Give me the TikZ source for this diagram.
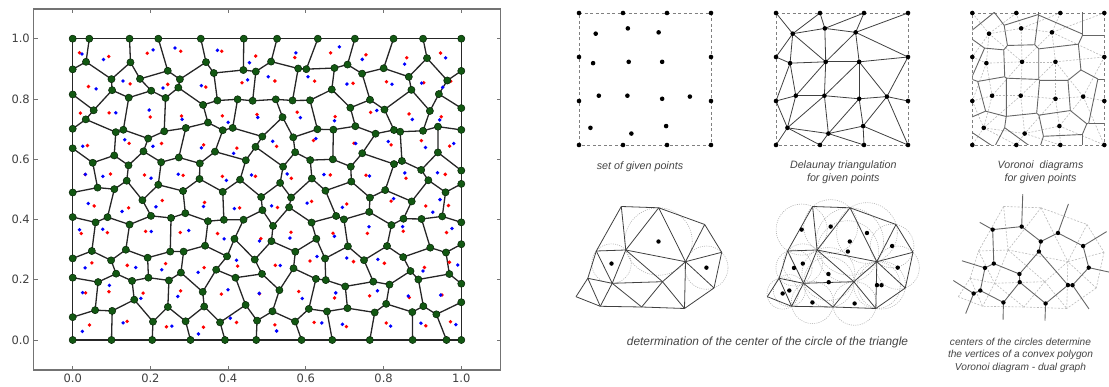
\documentclass[tikz,border=0pt]{standalone}
\usepackage{fontspec}
\newfontfamily\tickfont{DejaVu Sans}
\newfontfamily\capfont{Liberation Sans}
\usetikzlibrary{calc}
\definecolor{cellgreen}{RGB}{18,88,18}
\definecolor{capgray}{RGB}{68,68,68}
\tikzstyle{axisline} = [black!55, line width=1.1pt]
\tikzstyle{cellline} = [black!85, line width=1.3pt]
\tikzstyle{vertex} = [fill=cellgreen, draw=black!60!cellgreen, line width=0.5pt]
\tikzstyle{sqframe} = [gray, line width=0.7pt, dash pattern=on 3pt off 2.5pt]
\tikzstyle{tri} = [black!75, line width=0.8pt]
\tikzstyle{ghost} = [gray!55, line width=0.6pt, dash pattern=on 2pt off 1.5pt]
\tikzstyle{vor} = [black!60, line width=0.9pt]
\tikzstyle{circ} = [gray!60, line width=0.6pt, dash pattern=on 1pt off 1.2pt]
\tikzstyle{caption} = [font=\capfont\itshape, text=capgray, align=center, inner sep=0pt]
\tikzstyle{ticklabel} = [font=\tickfont\fontsize{11.5}{12}\selectfont, text=black!75, inner sep=0pt]

\newcommand{\circcenter}[4]{%
  \coordinate (#4a) at ($(#1)!.5!(#2)$);
  \coordinate (#4b) at ($(#1)!.5!(#2)!1!90:(#2)$);
  \coordinate (#4c) at ($(#2)!.5!(#3)$);
  \coordinate (#4d) at ($(#2)!.5!(#3)!1!90:(#3)$);
  \coordinate (#4) at (intersection of #4a--#4b and #4c--#4d);
}

\newcommand{\gridpts}{n0/0/3, n1/1/3, n2/2/3, n3/3/3, w2/0/2, w1/0/1, e2/3/2, e1/3/1, s0/0/0, s1/1/0, s2/2/0, s3/3/0,
  A1/0.38/2.53, A2/1.11/2.65, A3/1.81/2.56, B1/0.32/1.86, B2/1.13/1.89, B3/1.89/1.89,
  C1/0.45/1.12, C2/1.10/1.12, C3/1.89/1.05, C4/2.52/1.10, D1/0.26/0.39, D2/1.19/0.26, D3/1.98/0.43}
\newcommand{\gridedges}{n1/A1, A1/A2, n1/A2, n2/A2, A2/A3, n2/A3, n3/A3, A3/e2, n0/A1, A1/w2, A1/B1, A1/B2,
  A2/B2, A3/B2, A3/B3, B3/e2, w2/B1, B1/w1, B1/C1, B1/B2, B2/C1, B2/C2, B2/B3, B3/C2, B3/C3, B3/C4,
  e2/C4, C4/e1, C4/s3, C4/D3, C3/C4, C3/D3, C2/C3, C3/D2, D2/D3, D3/s2, D3/s3, D2/s2, D2/s1, D1/s1,
  D1/D2, D1/s0, w1/D1, w1/C1, C1/D1, C1/C2, C2/D1, C2/D2}
\newcommand{\gridtris}{1/n0/n1/A1, 2/n1/A1/A2, 3/n1/n2/A2, 4/n2/A2/A3, 5/n2/n3/A3, 6/n3/A3/e2, 7/n0/A1/w2,
  8/A1/w2/B1, 9/A1/B1/B2, 10/A1/A2/B2, 11/A2/A3/B2, 12/A3/B2/B3, 13/A3/B3/e2, 14/w2/B1/w1, 15/B1/w1/C1,
  16/B1/C1/B2, 17/B2/C1/C2, 18/B2/C2/B3, 19/B3/C2/C3, 20/B3/C3/C4, 21/B3/C4/e2, 22/e2/C4/e1, 23/e1/C4/s3,
  24/C4/D3/s3, 25/C3/C4/D3, 26/C2/C3/D2, 27/C3/D2/D3, 28/D2/D3/s2, 29/D3/s2/s3, 30/D2/s1/s2, 31/D1/D2/s1,
  32/D1/s0/s1, 33/w1/D1/s0, 34/w1/C1/D1, 35/C1/C2/D1, 36/C2/D1/D2}
\newcommand{\griddual}{1/2, 2/10, 2/3, 3/4, 4/11, 4/5, 5/6, 6/13, 1/7, 7/8, 8/9, 9/10, 10/11, 11/12, 12/13,
  13/21, 8/14, 14/15, 15/16, 9/16, 16/17, 17/18, 12/18, 18/19, 19/20, 20/21, 21/22, 22/23, 23/24, 24/25,
  20/25, 25/27, 19/26, 26/27, 27/28, 28/29, 24/29, 28/30, 30/31, 31/32, 31/36, 32/33, 33/34, 15/34, 34/35,
  17/35, 35/36, 26/36}
\newcommand{\gridhull}{1/0/1, 3/0/1, 5/0/1, 6/1/0, 22/1/0, 23/1/0, 29/0/-1, 30/0/-1, 32/0/-1, 33/-1/0, 14/-1/0, 7/-1/0}

\newcommand{\meshpts}{V1/621.3/180.5, V2/658.7/179.2, V3/704.7/162.5, V4/721.7/134.7, VR/714/99,
  VB3/684.5/78.5, VB2/641.7/80, VB1/600.3/80.7, VL3/576/90.3, VL2/587.8/108.7, VL1/596.3/136,
  V5/625.8/137, V6/612.2/103.7, V7/662.5/105.3, V8/685.5/125.3}
\newcommand{\meshedges}{V1/V2, V2/V3, V3/V4, V4/VR, VR/VB3, VB3/VB2, VB2/VB1, VB1/VL3, VL3/VL2, VL2/VL1,
  VL1/V1, V2/V5, V1/V5, V2/V8, V5/V8, V3/V8, V4/V8, VR/V8, VB3/V8, V7/V8, V7/VB3, V7/VB2, V6/VB2, V6/V7,
  V6/VB1, VL2/V6, VL2/VB1, VL1/V6, V5/V6, VL1/V5, V5/V7}
\newcommand{\meshtris}{1/V1/V2/V5, 2/V2/V5/V8, 3/V2/V3/V8, 4/V3/V4/V8, 5/V4/VR/V8, 6/VR/VB3/V8,
  7/V8/VB3/V7, 8/V7/VB3/VB2, 9/V6/V7/VB2, 10/V6/VB1/VB2, 11/VL2/VB1/V6, 12/VL2/VL3/VB1, 13/VL1/VL2/V6,
  14/VL1/V5/V6, 15/V1/VL1/V5, 16/V5/V6/V7, 17/V5/V7/V8}
\newcommand{\meshdual}{1/2, 1/15, 2/3, 2/17, 3/4, 4/5, 5/6, 6/7, 7/17, 7/8, 8/9, 9/10, 9/16, 10/11, 11/13,
  11/12, 13/14, 14/16, 14/15, 16/17}
\newcommand{\meshhull}{15/V1/VL1, 13/VL1/VL2, 12/VL2/VL3, 12/VL3/VB1, 10/VB1/VB2, 8/VB2/VB3, 6/VB3/VR,
  5/VR/V4, 4/V4/V3, 3/V3/V2, 1/V2/V1}

\begin{document}
\begin{tikzpicture}[x=1pt,y=1pt]
\useasboundingbox (0,0) rectangle (1109,387);

\draw[axisline] (33.8,17) rectangle (500.5,378);
\foreach \k/\lab in {0/0.0,1/0.2,2/0.4,3/0.6,4/0.8,5/1.0} {
  \pgfmathsetmacro\tx{72.7+77.72*\k}
  \pgfmathsetmacro\ty{47+60.26*\k}
  \draw[axisline, line width=0.8pt] (\tx,17) -- ++(0,4) (\tx,378) -- ++(0,-4);
  \draw[axisline, line width=0.8pt] (33.8,\ty) -- ++(4,0) (500.5,\ty) -- ++(-4,0);
  \node[ticklabel, anchor=north] (xl\k) at (\tx,13) {\lab};
  \node[ticklabel, anchor=east] (yl\k) at (30,\ty) {\lab};
}

\begin{scope}[shift={(72.7,47)}]
\pgfmathsetseed{11}
\foreach \i in {0,...,21} {
  \foreach \j in {0,...,10} {
    \pgfmathsetmacro\vx{\i*18.505+7*rand}
    \pgfmathsetmacro\vy{\j*30.13+5*cos(180*(\i+\j))+7.5*rand}
    \ifnum\i=0 \def\vx{0}\fi
    \ifnum\i=21 \def\vx{388.6}\fi
    \ifnum\j=0 \def\vy{0}\fi
    \ifnum\j=10 \def\vy{301.3}\fi
    \coordinate (v\i-\j) at (\vx,\vy);
  }
}
\foreach \i in {0,...,20} {
  \foreach \j in {0,...,10} {
    \pgfmathtruncatemacro\ii{\i+1}
    \draw[cellline] (v\i-\j) -- (v\ii-\j);
  }
}
\foreach \i in {0,...,21} {
  \foreach \j in {0,...,9} {
    \pgfmathtruncatemacro\jj{\j+1}
    \pgfmathtruncatemacro\odd{mod(\i+\j,2)}
    \ifnum\odd=0 \draw[cellline] (v\i-\j) -- (v\i-\jj); \fi
  }
}
\draw[cellline] (0,0) rectangle (388.6,301.3);
\foreach \j in {0,...,9} {
  \foreach \i in {-1,...,20} {
    \pgfmathtruncatemacro\odd{mod(\i+\j+2,2)}
    \ifnum\odd=0
      \pgfmathsetmacro\cx{min(max((\i+1)*18.505,9),379.6)+4*rand}
      \pgfmathsetmacro\cy{\j*30.13+15+4*rand}
      \pgfmathsetmacro\bx{\cx+9*rand}
      \pgfmathsetmacro\by{\cy+7*rand}
      \fill[red] (\cx,\cy) circle (1.9pt);
      \fill[blue] (\bx,\by) circle (1.9pt);
    \fi
  }
}
\foreach \i in {0,...,21} {
  \foreach \j in {0,...,10} {
    \pgfmathtruncatemacro\shw{(\j>0)*(\j<10)+(\j==0)*(1-mod(\i,2))+(\j==10)*mod(\i,2)+(\i==0)+(\i==21)}
    \ifnum\shw>0 \filldraw[vertex] (v\i-\j) circle (3.6pt); \fi
  }
}
\end{scope}

\begin{scope}[shift={(579,242)}, x=44pt, y=44pt]
  \draw[sqframe] (0,0) rectangle (3,3);
  \foreach \n/\px/\py in \gridpts {
    \coordinate (\n) at (\px,\py);
    \fill (\n) circle (2.3pt);
  }
\end{scope}

\begin{scope}[shift={(776,242)}, x=44pt, y=44pt]
  \draw[sqframe] (0,0) rectangle (3,3);
  \foreach \n/\px/\py in \gridpts \coordinate (\n) at (\px,\py);
  \foreach \p/\q in \gridedges \draw[tri] (\p) -- (\q);
  \foreach \n/\px/\py in \gridpts \fill (\n) circle (2.3pt);
\end{scope}

\begin{scope}[shift={(972.3,242)}, x=44pt, y=44pt]
  \draw[sqframe] (0,0) rectangle (3,3);
  \foreach \n/\px/\py in \gridpts \coordinate (\n) at (\px,\py);
  \foreach \p/\q in \gridedges \draw[ghost] (\p) -- (\q);
  \foreach \k/\pa/\pb/\pc in \gridtris {\circcenter{\pa}{\pb}{\pc}{o\k}}
  \begin{scope}
    \clip (0,0) rectangle (3,3);
    \foreach \p/\q in \griddual \draw[vor] (o\p) -- (o\q);
    \foreach \k/\hx/\hy in \gridhull \draw[vor] (o\k) -- ++(\hx,\hy);
  \end{scope}
  \foreach \n/\px/\py in \gridpts \fill (\n) circle (2.3pt);
\end{scope}

\node[caption, font=\capfont\itshape\fontsize{10.7}{13.3}\selectfont] (cap1) at (640,220.3) {set of given points};
\node[caption, font=\capfont\itshape\fontsize{10.7}{13.3}\selectfont] (cap2) at (843.3,214.7) {Delaunay triangulation\\for given points};
\node[caption, font=\capfont\itshape\fontsize{10.6}{13.3}\selectfont] (cap3) at (1040.5,214.7) {Voronoi\ \ diagrams\\for given points};

\begin{scope}
  \foreach \n/\px/\py in \meshpts \coordinate (\n) at (\px,\py);
  \foreach \k/\pa/\pb/\pc in \meshtris {\circcenter{\pa}{\pb}{\pc}{o\k}}
  \foreach \k/\pa in {2/V2, 14/VL1, 5/V4}
    \draw[circ] let \p1=($(o\k)-(\pa)$) in (o\k) circle ({veclen(\x1,\y1)});
  \foreach \p/\q in \meshedges \draw[tri] (\p) -- (\q);
  \foreach \k in {2,14,5} \fill (o\k) circle (2.2pt);
\end{scope}

\begin{scope}[xshift=191.3pt]
  \foreach \n/\px/\py in \meshpts \coordinate (\n) at (\px,\py);
  \foreach \k/\pa/\pb/\pc in \meshtris {\circcenter{\pa}{\pb}{\pc}{o\k}}
  \foreach \k/\pa/\pb/\pc in \meshtris
    \draw[circ] let \p1=($(o\k)-(\pa)$) in (o\k) circle ({veclen(\x1,\y1)});
  \foreach \p/\q in \meshedges \draw[tri] (\p) -- (\q);
  \foreach \k/\pa/\pb/\pc in \meshtris \fill (o\k) circle (2.2pt);
\end{scope}

\begin{scope}[xshift=382.3pt]
  \foreach \n/\px/\py in \meshpts \coordinate (\n) at (\px,\py);
  \foreach \k/\pa/\pb/\pc in \meshtris {\circcenter{\pa}{\pb}{\pc}{o\k}}
  \foreach \p/\q in \meshedges \draw[ghost] (\p) -- (\q);
  \foreach \p/\q in \meshdual \draw[vor] (o\p) -- (o\q);
  \foreach \k/\pa/\pb in \meshhull \draw[vor] (o\k) -- ($(\pa)!.5!(\pb)!13pt!-90:(\pb)$);
  \foreach \k/\pa/\pb/\pc in \meshtris \fill (o\k) circle (2.2pt);
\end{scope}

\node[caption, font=\capfont\itshape\fontsize{11.9}{14}\selectfont] (cap4) at (767.5,44.3) {determination of the center of the circle of the triangle};
\node[caption, font=\capfont\itshape\fontsize{10.15}{12.5}\selectfont] (cap5) at (1020.5,31.9) {centers of the circles determine\\the vertices of a convex polygon\\Voronoi diagram - dual graph};
\end{tikzpicture}
\end{document}
